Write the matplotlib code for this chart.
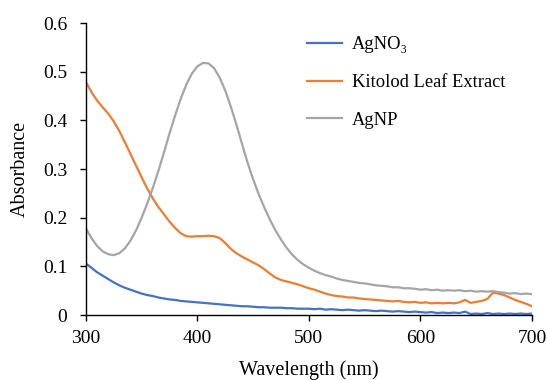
import numpy as np
import matplotlib
matplotlib.use("Agg")
from matplotlib import pyplot as plt

plt.rcParams['font.family'] = ['Liberation Serif', 'DejaVu Serif']

# wavelength grid (nm), 5 nm steps
wavelength = np.arange(300, 701, 5)

agno3 = [0.106, 0.097, 0.088, 0.081, 0.074, 0.067, 0.061, 0.056, 0.052, 0.048,
         0.044, 0.041, 0.039, 0.036, 0.034, 0.032, 0.031, 0.029, 0.028, 0.027,
         0.026, 0.025, 0.024, 0.023, 0.022, 0.021, 0.020, 0.019, 0.018, 0.018,
         0.017, 0.016, 0.016, 0.015, 0.015, 0.015, 0.014, 0.014, 0.013, 0.013,
         0.013, 0.012, 0.013, 0.011, 0.012, 0.011, 0.010, 0.011, 0.010, 0.009,
         0.010, 0.009, 0.008, 0.009, 0.008, 0.007, 0.008, 0.007, 0.006, 0.007,
         0.006, 0.005, 0.006, 0.004, 0.005, 0.004, 0.005, 0.004, 0.007, 0.002,
         0.003, 0.002, 0.004, 0.002, 0.003, 0.002, 0.003, 0.002, 0.003, 0.002,
         0.003]

leaf_extract = [0.479, 0.458, 0.441, 0.427, 0.414, 0.398, 0.378, 0.355, 0.331, 0.307,
                0.283, 0.260, 0.240, 0.222, 0.207, 0.192, 0.179, 0.168, 0.162, 0.161,
                0.162, 0.162, 0.163, 0.162, 0.158, 0.148, 0.136, 0.127, 0.120, 0.114,
                0.108, 0.102, 0.094, 0.085, 0.077, 0.072, 0.069, 0.066, 0.063, 0.059,
                0.055, 0.052, 0.048, 0.044, 0.041, 0.039, 0.038, 0.036, 0.036, 0.034,
                0.033, 0.032, 0.031, 0.030, 0.029, 0.028, 0.029, 0.027, 0.026, 0.027,
                0.025, 0.026, 0.024, 0.025, 0.024, 0.025, 0.024, 0.026, 0.031, 0.025,
                0.027, 0.029, 0.033, 0.046, 0.044, 0.041, 0.036, 0.031, 0.027, 0.023,
                0.018]

agnp = [0.178, 0.158, 0.142, 0.131, 0.125, 0.123, 0.127, 0.137, 0.153, 0.174,
        0.200, 0.229, 0.261, 0.296, 0.334, 0.373, 0.410, 0.444, 0.473, 0.496,
        0.511, 0.518, 0.517, 0.507, 0.488, 0.461, 0.428, 0.391, 0.352, 0.313,
        0.279, 0.248, 0.221, 0.196, 0.174, 0.155, 0.138, 0.124, 0.113, 0.104,
        0.097, 0.091, 0.086, 0.082, 0.079, 0.075, 0.072, 0.070, 0.068, 0.066,
        0.065, 0.063, 0.061, 0.060, 0.059, 0.057, 0.057, 0.055, 0.055, 0.054,
        0.052, 0.053, 0.051, 0.052, 0.050, 0.051, 0.050, 0.051, 0.049, 0.050,
        0.048, 0.049, 0.048, 0.049, 0.047, 0.046, 0.044, 0.045, 0.043, 0.044,
        0.043]

fig = plt.figure(figsize=(5.47, 3.80), dpi=100)
ax = fig.add_axes([0.157, 0.171, 0.8155, 0.7684])

ax.plot(wavelength, agno3, color='#4472C4', lw=1.6, label='AgNO₃')
ax.plot(wavelength, leaf_extract, color='#ED7D31', lw=1.6, label='Kitolod Leaf Extract')
ax.plot(wavelength, agnp, color='#A5A5A5', lw=1.6, label='AgNP')

ax.set_xlim(300, 700)
ax.set_ylim(0, 0.6)
ax.set_xticks([300, 400, 500, 600, 700])
ax.set_yticks([0, 0.1, 0.2, 0.3, 0.4, 0.5, 0.6])
ax.set_yticklabels(['0', '0.1', '0.2', '0.3', '0.4', '0.5', '0.6'])
ax.tick_params(labelsize=14, length=4.5, width=1, direction='out')
ax.tick_params(axis='x', pad=6)
ax.tick_params(axis='y', pad=9)
for s in ['top', 'right']:
    ax.spines[s].set_visible(False)
for s in ['left', 'bottom']:
    ax.spines[s].set_linewidth(1)

ax.set_xlabel('Wavelength (nm)', fontsize=14.5, labelpad=10)
ax.set_ylabel('Absorbance', fontsize=14.5, labelpad=9)

ax.legend(loc='upper left', bbox_to_anchor=(0.495, 0.955), frameon=False,
          fontsize=13.3, handlelength=1.9, handletextpad=0.55, labelspacing=1.13,
          borderpad=0, borderaxespad=0)

fig.savefig('out.png', dpi=100)
